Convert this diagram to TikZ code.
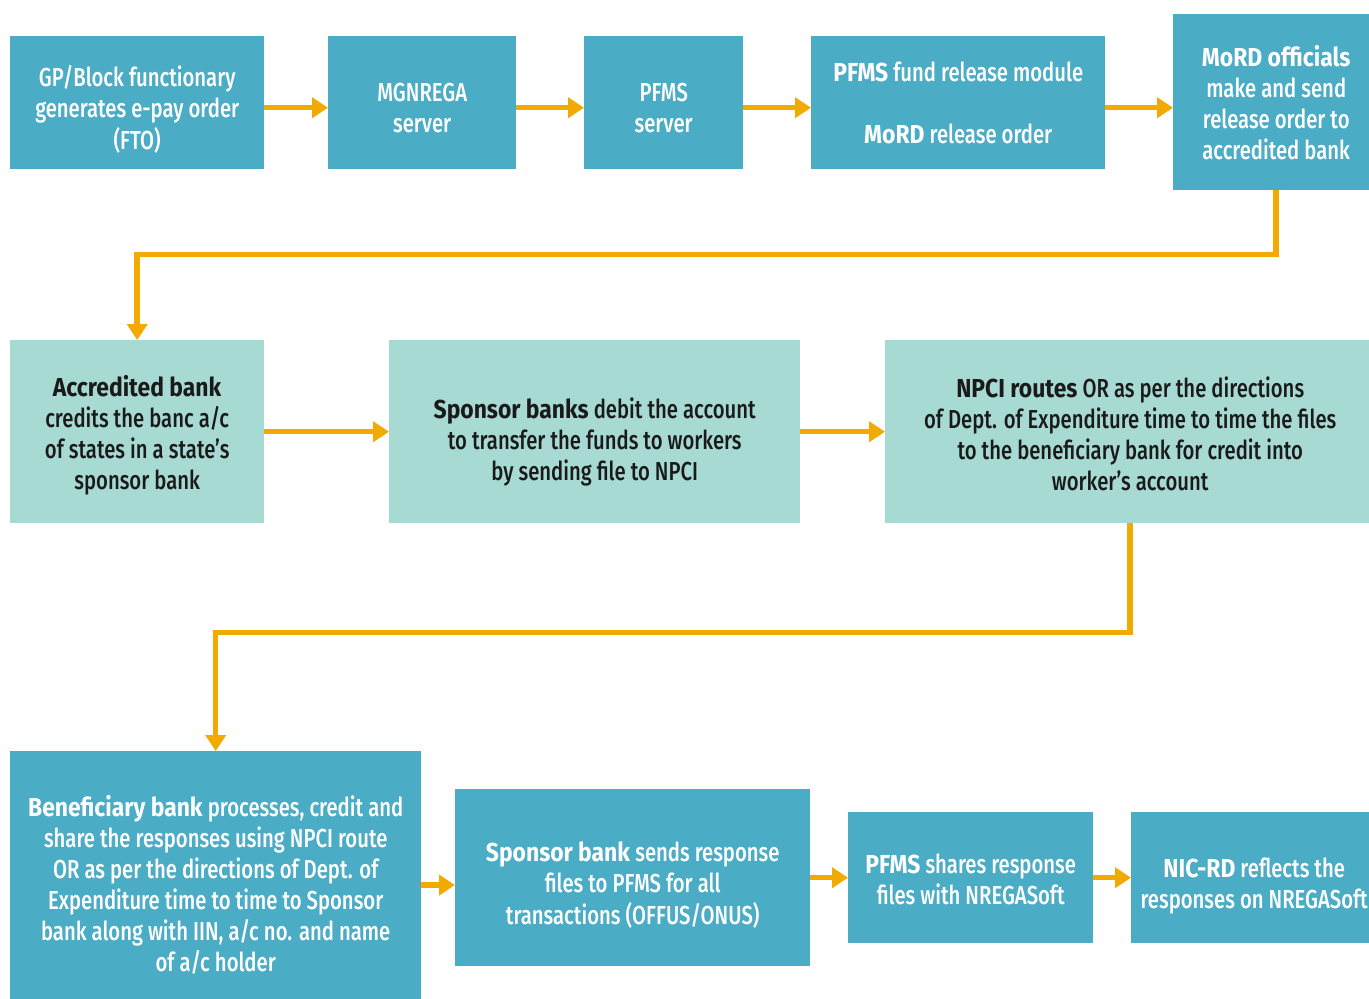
\documentclass[tikz,border=0pt]{standalone}
\usepackage{fontspec}
\setmainfont{Fira Sans}[UprightFont={* Medium}, UprightFeatures={FakeStretch=0.78}, BoldFont={* Bold}, BoldFeatures={FakeStretch=0.88}]
\usetikzlibrary{arrows.meta,positioning,calc}
\definecolor{dblue}{HTML}{4BACC6}
\definecolor{lteal}{HTML}{A6DAD3}
\definecolor{arrorange}{HTML}{F2A900}
\definecolor{darktext}{HTML}{1A1A1A}
\newcommand{\dropby}[2]{\raisebox{0pt}[\dimexpr\height+#1\relax][\depth]{\begin{tabular}{@{}c@{}}#2\end{tabular}}}
\tikzset{
  dbox/.style={fill=dblue, text=white, align=center, inner sep=0pt, anchor=north west,
    font=\fontsize{26}{31}\selectfont},
  lbox/.style={fill=lteal, text=darktext, align=center, inner sep=0pt, anchor=north west,
    font=\fontsize{26}{31}\selectfont},
  arr/.style={draw=arrorange, line width=5.5pt, -{Triangle[length=16pt,width=20pt]}},
}
\begin{document}
\begin{tikzpicture}[x=1pt,y=-1pt]
\useasboundingbox (0,0) rectangle (1369,999);
\fill[white] (0,0) rectangle (1369,999);
% row 1
\node[dbox, minimum width=254pt, minimum height=133pt] (b1) at (10,36) {\dropby{18pt}{GP/Block functionary\\generates e-pay order\\(FTO)}};
\node[dbox, minimum width=188pt, minimum height=133pt] (b2) at (328,36) {\dropby{17pt}{MGNREGA\\server}};
\node[dbox, minimum width=159pt, minimum height=133pt] (b3) at (584,36) {\dropby{17pt}{PFMS\\server}};
\node[dbox, minimum width=294pt, minimum height=133pt] (b4) at (811,36) {\textbf{PFMS} fund release module\\[31pt]\textbf{MoRD} release order};
\node[dbox, minimum width=206pt, minimum height=176pt] (b5) at (1173,14) {\textbf{MoRD officials}\\make and send\\release order to\\accredited bank};
% row 2
\node[lbox, minimum width=254pt, minimum height=183pt] (b6) at (10,340) {\dropby{11pt}{\textbf{Accredited bank}\\credits the banc a/c\\of states in a state’s\\sponsor bank}};
\node[lbox, minimum width=411pt, minimum height=183pt] (b7) at (389,340) {\dropby{24pt}{\textbf{Sponsor banks} debit the account\\to transfer the funds to workers\\by sending file to NPCI}};
\node[lbox, minimum width=490pt, minimum height=183pt] (b8) at (885,340) {\dropby{12pt}{\textbf{NPCI routes} OR as per the directions\\of Dept. of Expenditure time to time the files\\to the beneficiary bank for credit into\\worker’s account}};
% row 3
\node[dbox, minimum width=411pt, minimum height=268pt] (b9) at (10,751) {\textbf{Beneficiary bank} processes, credit and\\share the responses using NPCI route\\OR as per the directions of Dept. of\\Expenditure time to time to Sponsor\\bank along with IIN, a/c no. and name\\of a/c holder};
\node[dbox, minimum width=355pt, minimum height=177pt] (b10) at (455,789) {\dropby{18pt}{\textbf{Sponsor bank} sends response\\files to PFMS for all\\transactions (OFFUS/ONUS)}};
\node[dbox, minimum width=245pt, minimum height=131pt] (b11) at (848,812) {\dropby{10pt}{\textbf{PFMS} shares response\\files with NREGASoft}};
\node[dbox, minimum width=246pt, minimum height=131pt] (b12) at (1131,812) {\dropby{18pt}{\textbf{NIC-RD} reflects the\\responses on NREGASoft}};
% connectors
\draw[arr] ([yshift=-5pt]b1.east) -- ([yshift=-5pt]b2.west);
\draw[arr] ([yshift=-5pt]b2.east) -- ([yshift=-5pt]b3.west);
\draw[arr] ([yshift=-5pt]b3.east) -- ([yshift=-5pt]b4.west);
\draw[arr] ([yshift=-5pt]b4.east) -- ([yshift=-5pt]b4.east -| b5.west);
\draw[arr] (b5.south) -- ++(0,64) -| (b6.north);
\draw[arr] (b6.east) -- (b7.west);
\draw[arr] (b7.east) -- (b8.west);
\draw[arr] (b8.south) -- ++(0,109) -| (b9.north);
\coordinate (r3) at (421,885);
\draw[arr] (r3) -- (r3 -| b10.west);
\draw[arr] (b10.east) -- (b11.west);
\draw[arr] (b11.east) -- (b12.west);
\end{tikzpicture}
\end{document}
